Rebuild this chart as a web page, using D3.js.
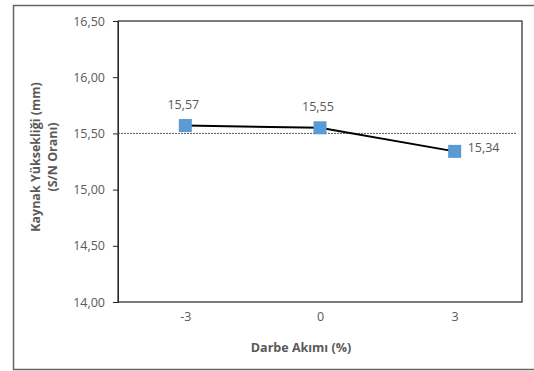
<!DOCTYPE html>
<html><head><meta charset="utf-8">
<script src="https://cdn.jsdelivr.net/npm/d3@7"></script>
<style>body{margin:0;background:#fff}svg{display:block}text{font-family:"Open Sans",Lato,sans-serif}</style>
</head><body>
<svg id="c" width="534" height="371"></svg>
<script>
const categories = ["-3", "0", "3"];
const values = [15.57, 15.55, 15.34];
const yTicks = [14.0, 14.5, 15.0, 15.5, 16.0, 16.5];
const refValue = 15.5;

const svg = d3.select("#c");
const L = 118, R = 522, T = 21, B = 302;
const fmt = v => d3.format(".2f")(v).replace(".", ",");
const gray = "#595959";
const fs = "12.5px";

svg.append("rect").attr("x", 13.5).attr("y", 5.5).attr("width", 530).attr("height", 364)
  .attr("fill", "#fff").attr("stroke", "#646464").attr("stroke-width", 1.5);

const x = d3.scalePoint().domain(categories).range([L, R]).padding(0.5);
const y = d3.scaleLinear().domain([14, 16.5]).range([B, T]);

// plot frame
svg.append("rect").attr("x", L).attr("y", T).attr("width", R - L).attr("height", B - T)
  .attr("fill", "none").attr("stroke", "#262626").attr("stroke-width", 1.2);

// y axis
const ya = svg.append("g").attr("transform", `translate(${L},0)`)
  .call(d3.axisLeft(y).tickValues(yTicks).tickFormat(fmt).tickSize(5).tickPadding(8));
ya.select(".domain").attr("stroke", "#262626");
ya.selectAll(".tick line").attr("stroke", "#262626");
ya.selectAll("text").attr("fill", gray).style("font-size", fs).style("font-family", "Open Sans");

// x axis
const xa = svg.append("g").attr("transform", `translate(0,${B})`)
  .call(d3.axisBottom(x).tickSize(0).tickPadding(10));
xa.select(".domain").remove();
xa.selectAll("text").attr("fill", gray).style("font-size", fs).style("font-family", "Open Sans");

// reference dotted line
svg.append("line").attr("x1", L).attr("x2", 517).attr("y1", y(refValue)).attr("y2", y(refValue))
  .attr("stroke", "#555").attr("stroke-width", 1).attr("stroke-dasharray", "2,1");

// series line
const data = categories.map((c, i) => ({c, v: values[i]}));
svg.append("path").datum(data)
  .attr("d", d3.line().x(d => x(d.c)).y(d => y(d.v)))
  .attr("fill", "none").attr("stroke", "#000").attr("stroke-width", 2);

// markers
svg.selectAll("rect.m").data(data).join("rect").attr("class", "m")
  .attr("x", d => x(d.c) - 6.5).attr("y", d => y(d.v) - 6.5).attr("width", 13).attr("height", 13)
  .attr("fill", "#5B9BD5");

// labels
svg.selectAll("text.lbl").data(data).join("text").attr("class", "lbl")
  .attr("x", (d, i) => i < 2 ? x(d.c) - 2 : x(d.c) + 13)
  .attr("y", (d, i) => i < 2 ? y(d.v) - 17 : y(d.v) + 1)
  .attr("text-anchor", (d, i) => i < 2 ? "middle" : "start")
  .attr("fill", gray).style("font-size", fs).text(d => fmt(d.v));

// axis titles
svg.append("text").attr("x", 301).attr("y", 352).attr("text-anchor", "middle")
  .attr("fill", gray).style("font-size", "12.5px").style("font-weight", "bold").text("Darbe Akımı (%)");
const yt = svg.append("text").attr("transform", `translate(0,157) rotate(-90)`)
  .attr("text-anchor", "middle").attr("fill", gray).style("font-size", "12.5px").style("font-weight", "bold");
yt.append("tspan").attr("x", 0).attr("y", 40).text("Kaynak Yüksekliği (mm)");
yt.append("tspan").attr("x", 0).attr("y", 57).text("(S/N Oranı)");
</script>
</body></html>
